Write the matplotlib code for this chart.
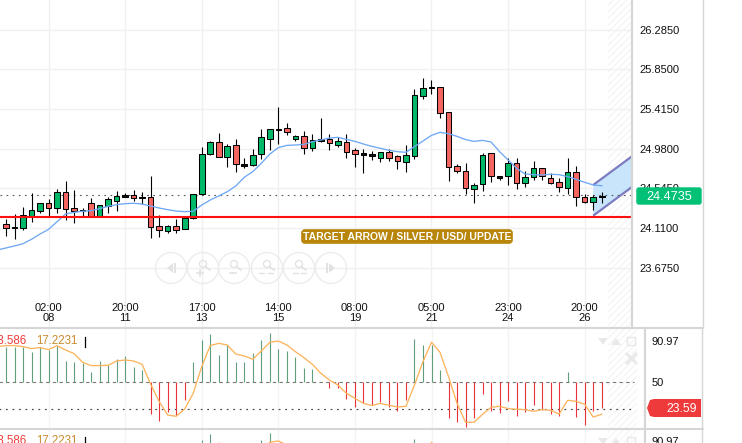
import matplotlib
matplotlib.use("Agg")
import matplotlib.pyplot as plt
import numpy as np
from matplotlib.patches import Rectangle, Polygon, Circle, FancyBboxPatch

plt.rcParams['font.family'] = ['Liberation Sans', 'DejaVu Sans']
plt.rcParams['hatch.linewidth'] = 0.7

highs = [24.205,24.260,24.337,24.490,24.381,24.424,24.534,24.622,24.523,24.329,24.443,24.362,24.454,24.512,24.497,24.523,24.501,24.677,24.249,24.143,24.205,24.234,24.483,24.995,25.068,25.148,25.027,25.082,24.874,
         24.973,25.192,25.196,25.433,25.258,25.130,25.170,25.137,25.312,25.137,25.112,25.137,24.984,24.980,24.951,24.947,24.976,24.914,25.024,25.631,25.758,25.737,25.652,25.378,24.808,24.819,24.600,
         24.929,24.929,24.680,24.874,24.874,24.735,24.845,24.764,24.709,24.655,24.874,24.786,24.479,24.468,24.509]
body_tops = [24.150,24.121,24.249,24.304,24.381,24.381,24.501,24.501,24.326,24.311,24.381,24.359,24.424,24.457,24.468,24.468,24.450,24.446,24.128,24.128,24.128,24.216,24.479,24.918,25.049,25.049,25.006,25.016,24.808,
             24.907,25.104,25.196,25.196,25.203,25.115,25.115,25.071,25.082,25.082,25.060,25.049,24.962,24.929,24.921,24.940,24.940,24.896,24.907,25.565,25.642,25.656,25.652,25.378,24.786,24.731,24.578,
             24.907,24.929,24.680,24.819,24.819,24.666,24.764,24.764,24.655,24.611,24.720,24.720,24.446,24.446,24.457]
body_bots = [24.114,24.114,24.114,24.245,24.300,24.333,24.333,24.315,24.300,24.296,24.234,24.234,24.355,24.410,24.454,24.435,24.435,24.117,24.084,24.073,24.092,24.095,24.216,24.479,24.918,24.885,24.885,24.808,24.794,
             24.805,24.918,25.090,25.188,25.166,25.090,24.984,24.984,25.064,25.038,25.024,24.947,24.925,24.914,24.903,24.881,24.881,24.841,24.837,24.903,25.561,25.649,25.367,24.775,24.731,24.545,24.534,
             24.589,24.677,24.662,24.677,24.607,24.600,24.666,24.677,24.607,24.556,24.545,24.446,24.392,24.392,24.450]
lows = [24.026,23.989,24.092,24.176,24.278,24.242,24.278,24.198,24.169,24.242,24.234,24.234,24.278,24.300,24.446,24.410,24.373,24.004,24.015,24.052,24.059,24.095,24.212,24.476,24.914,24.885,24.783,24.728,24.772,
        24.786,24.870,24.965,25.031,25.130,25.068,24.921,24.954,25.057,24.965,24.998,24.878,24.779,24.717,24.856,24.834,24.845,24.753,24.728,24.870,25.521,25.579,25.320,24.629,24.717,24.483,24.388,
        24.519,24.618,24.636,24.585,24.541,24.563,24.640,24.640,24.596,24.508,24.487,24.355,24.388,24.307,24.388]
directions = list("rdgggrgrrdrgggdrd" "rrgrgg" "ggrgrd"
                  "gggdrgrgdrgrrddgrrggg" "drrrrg"
                  "grdgrgg" "rrrgrrgd")

ma_index = [-0.7] + list(range(71))
ma_values = [23.876,23.891,23.913,23.938,23.986,24.044,24.095,24.179,24.264,24.282,24.293,24.300,24.322,24.348,24.366,24.377,24.381,24.373,24.351,24.329,24.311,24.296,24.289,24.293,24.362,24.417,24.461,24.508,24.571,24.666,
             24.728,24.819,24.921,24.991,25.016,25.020,25.027,25.057,25.075,25.097,25.104,25.082,25.060,25.031,25.005,24.984,24.962,24.947,24.940,25.002,25.064,25.126,25.159,25.144,25.115,25.079,25.060,
             25.071,25.053,24.947,24.856,24.764,24.702,24.695,24.691,24.699,24.695,24.673,24.644,24.611,24.582,24.574]

last_price = 24.4735
support_price = 24.234
channel_index = [69, 73.6, 73.6, 69]
channel_prices = [24.582, 24.899, 24.563, 24.245]

price_ticks = [26.285, 25.85, 25.415, 24.98, 24.545, 24.11, 23.675]
price_labels = ['26.2850', '25.8500', '25.4150', '24.9800', '24.5450', '24.1100', '23.6750']
time_index = [5, 14, 23, 32, 41, 50, 59, 68]
time_labels = ['02:00\n08', '20:00\n11', '17:00\n13', '14:00\n15', '08:00\n19', '05:00\n21', '23:00\n24', '20:00\n26']

hist_values = [85.7,85.7,85.7,80.7,85.7,82.3,86.7,71.3,70,69,60.7,71.3,67.3,73.3,76.3,65,62.3,
               18,11.7,20,17.3,32.3,70,92.3,98,77.3,87.3,70,70,79,92.3,99,83.3,81.3,75.7,64,63.3,50,44,
               44,33.3,25,29,27.3,30.7,25.7,21.3,32.3,93.3,87.3,87.3,62.3,14,10,5.3,14.7,38,21.3,19.7,31.3,16,20.7,27.3,22.3,18,16.7,60.7,15.7,7.3,21.3,24]
signal_index = [-0.7] + list(range(71))
signal_values = [86,86.7,86.7,85.7,83.7,84.7,82.7,86.7,82.3,78.7,70,66.7,66.7,67,71.3,72.3,71.3,68,48,30.7,17.3,16,23.3,39,65.7,86.7,89,87.3,78.3,76.3,73,81.3,90,91.3,87.3,80.7,74.7,68,59,52.3,
                 47.3,39,34,29,26.7,29,27,25.3,26,47.3,70.7,90,80,55.7,29,10,10,18,25,26,23.7,23,22.7,21,22.7,22,18.3,32,31,28,15.3,18]
osc_level = 50
osc_current = 23.59
osc_ticks = [90.97, 50]

W, H = 742, 443
X0, DX = 6.0, 8.51
fig = plt.figure(figsize=(W/100, H/100), dpi=100)
fig.patch.set_facecolor('white')

def make_axes(left, top, right, bottom):
    ax = fig.add_axes([left/W, 1-bottom/H, (right-left)/W, (bottom-top)/H])
    ax.set_xlim((left-X0)/DX, (right-X0)/DX)
    for s in ax.spines.values():
        s.set_visible(False)
    return ax

GRID = '#f0f0f0'
# ---- main price panel
ax = make_axes(0, 0, 632, 327)
ax.set_yticks(price_ticks, price_labels, fontsize=8, color='#111111')
ax.set_xticks(time_index, time_labels, fontsize=8, color='#111111', linespacing=0.98)
ax.set_ylim(24.11 - 99*0.010966, 24.11 + 228*0.010966)
ax.set_xlim((0-X0)/DX, (632-X0)/DX)
ax.yaxis.tick_right()
ax.tick_params(axis='y', length=0, pad=5)
ax.tick_params(axis='x', length=0, pad=-17)
ax.grid(True, color=GRID, lw=1)
ax.set_axisbelow(True)

ax.add_patch(Rectangle(((608-X0)/DX, 23.0), 3, 3.7, facecolor='none', edgecolor='#f2f2f2',
                       hatch='/////', lw=0, zorder=1))
ax.add_patch(Polygon(np.column_stack([channel_index, channel_prices]), closed=True,
                     facecolor='#c8e5fb', edgecolor='none', zorder=1.5))
ax.plot(channel_index[:2], channel_prices[:2], color='#7d7cc0', lw=1.6, zorder=2, solid_capstyle='butt')
ax.plot(channel_index[2:], channel_prices[2:], color='#7d7cc0', lw=1.6, zorder=2, solid_capstyle='butt')

ax.axhline(last_price, color='#555555', lw=0.8, ls=(0, (1.5, 4)), zorder=2)

idx = np.arange(len(highs))
ax.vlines(idx, lows, highs, color='black', lw=0.8, zorder=3)
fill = {'g': '#00b868', 'r': '#f4665f', 'd': '#111111'}
for i, d in zip(idx, directions):
    ax.bar(i, body_tops[i]-body_bots[i], bottom=body_bots[i], width=0.66,
           color=fill[d], edgecolor='black', lw=0.75, zorder=4)
ax.plot(ma_index, ma_values, color='#6fa8f5', lw=0.95, zorder=5)
ax.axhline(support_price, color='#fb0f0f', lw=1.5, zorder=6)

# ---- oscillator panels
def oscillator(top, bottom, vtop):
    a = make_axes(0, top, 645, bottom)
    a.set_xticks(time_index, [])
    a.set_yticks(osc_ticks, ['90.97', '50'], fontsize=8, color='#111111')
    a.set_ylim(vtop - (bottom-top), vtop)
    a.set_xlim((0-X0)/DX, (645-X0)/DX)
    a.yaxis.tick_right()
    a.tick_params(axis='y', length=0, pad=5)
    a.tick_params(axis='x', length=0)
    a.grid(True, axis='x', color='#f4f4f4', lw=1)
    a.set_axisbelow(True)
    a.add_patch(Rectangle(((608-X0)/DX, -10), 3.4, 130, facecolor='none', edgecolor='#f3f3f3',
                          hatch='/////', lw=0, zorder=1))
    a.plot([-1, (634-X0)/DX], [osc_level]*2, color='#777777', lw=0.8, ls=(0, (3, 3)), zorder=2)
    a.plot([-1, (634-X0)/DX], [osc_current]*2, color='#444444', lw=0.85, ls=(0, (1.5, 4)), zorder=2)
    hv = np.array(hist_values)
    up = hv >= osc_level
    a.vlines(idx[up], osc_level, hv[up], color='#5f9f7e', lw=0.8, zorder=3)
    a.vlines(idx[~up], osc_level, hv[~up], color='#e8333a', lw=0.8, zorder=3)
    a.plot(signal_index, signal_values, color='#fdb45c', lw=0.95, zorder=4)
    return a

oscillator(329, 428, 103.3)
oscillator(429, 443, 103.3)

# ---- chrome overlay in pixel space
ov = fig.add_axes([0, 0, 1, 1], facecolor='none')
ov.set_xlim(0, W); ov.set_ylim(H, 0); ov.axis('off')
SEP = '#d6d6d6'
ov.plot([0, 703], [328, 328], color=SEP, lw=1.5)
ov.plot([0, 703], [428.5, 428.5], color=SEP, lw=1.5)
ov.plot([632, 632], [0, 328], color=SEP, lw=1.6)
ov.plot([703, 703], [0, 328], color=SEP, lw=1.0)
ov.plot([645, 645], [328, 443], color=SEP, lw=1.6)
ov.plot([702, 702], [328, 443], color=SEP, lw=1.0)

# price tag
ov.add_patch(FancyBboxPatch((637, 188), 64, 16, boxstyle='round,pad=0,rounding_size=2',
                            facecolor='#00c176', edgecolor='#00c176', lw=1))
ov.text(669, 196.5, '24.4735', color='white', fontsize=9.2, ha='center', va='center')

# oscillator tag
ov.add_patch(Polygon([(647, 408), (650, 400), (654, 399), (701, 399), (701, 417), (654, 417), (650, 416)],
                     closed=True, facecolor='#ee3a3a', edgecolor='none'))
ov.text(682, 408.5, '23.59', color='white', fontsize=8.8, ha='center', va='center')

# annotation label
ov.add_patch(FancyBboxPatch((302, 230), 210, 13, boxstyle='round,pad=0,rounding_size=3',
                            mutation_aspect=1, facecolor='#b8860b', edgecolor='#b8860b', lw=1.2))
ov.text(407, 237, 'TARGET ARROW / SILVER / USD/ UPDATE', color='white', fontsize=7.5,
        fontweight='bold', ha='center', va='center')

# indicator legends
for y in (341.5, 441.5):
    ov.text(27, y, '23.586', color='#ee3a3a', fontsize=8.3, ha='right', va='center')
    ov.text(36, y, '17.2231', color='#c98a2e', fontsize=8.3, ha='left', va='center')
    ov.plot([84.5, 84.5], [y-5, y+5], color='black', lw=0.9)

# panel icons
ICON = '#e8e8e8'
for y in (341, 441):
    ov.add_patch(Polygon([(598, y-3), (608, y-3), (603, y+4)], closed=True, facecolor=ICON, edgecolor='none'))
    ov.add_patch(Polygon([(611, y+4), (621, y+4), (616, y-3)], closed=True, facecolor=ICON, edgecolor='none'))
    ov.add_patch(Rectangle((627, y-4), 8, 8, facecolor='none', edgecolor=ICON, lw=1.0))
ov.plot([627, 636], [354, 363], color=ICON, lw=2)
ov.plot([627, 636], [363, 354], color=ICON, lw=2)

# zoom buttons
BTN = '#ececec'
ICON2 = '#e2e2e2'
cy = 268
centers = [171, 203, 234, 267, 299, 331]
for cx in centers:
    ov.add_patch(Circle((cx, cy), 15.5, facecolor='none', edgecolor=BTN, lw=1.0))
ov.add_patch(Polygon([(167, cy), (173, cy-5), (173, cy+5)], closed=True, facecolor=ICON2, edgecolor='none'))
ov.add_patch(Rectangle((174, cy-5), 2, 10, facecolor=ICON2, edgecolor='none'))
ov.add_patch(Polygon([(335, cy), (329, cy-5), (329, cy+5)], closed=True, facecolor=ICON2, edgecolor='none'))
ov.add_patch(Rectangle((326, cy-5), 2, 10, facecolor=ICON2, edgecolor='none'))
for cx in centers[1:5]:
    ov.add_patch(Circle((cx, cy-4), 3.5, facecolor='none', edgecolor=ICON2, lw=0.9))
    ov.plot([cx+2.5, cx+7], [cy-1.5, cy+2], color=ICON2, lw=1.2)
ov.plot([197, 203], [cy+5, cy+5], color=ICON2, lw=1.2); ov.plot([200, 200], [cy+2, cy+8], color=ICON2, lw=1.2)
ov.plot([230, 236], [cy+5, cy+5], color=ICON2, lw=1.2)
ov.plot([259, 264], [cy+5, cy+5], color=ICON2, lw=1.0); ov.plot([268, 273], [cy+5, cy+5], color=ICON2, lw=1.0)
ov.plot([293, 298], [cy+5, cy+5], color=ICON2, lw=1.0); ov.plot([301, 306], [cy+5, cy+5], color=ICON2, lw=1.0)

fig.savefig('out.png', dpi=100)
